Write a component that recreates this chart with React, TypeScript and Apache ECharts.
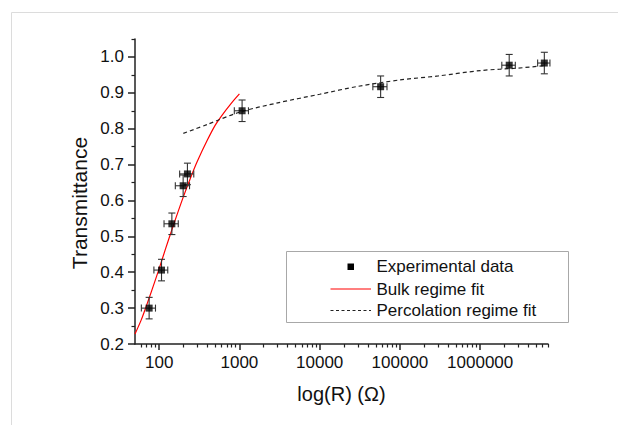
import React, { useEffect, useRef } from "react";
import * as echarts from "echarts";

// Experimental data (resistance in ohm, transmittance)
const dataR = [75, 107, 144, 199, 225, 1080, 57500, 2300000, 6300000];
const dataT = [0.3, 0.406, 0.535, 0.641, 0.674, 0.85, 0.917, 0.977, 0.983];
const errR = [15, 21, 29, 40, 45, 216, 11500, 440000, 1100000];
const errT = [0.03, 0.03, 0.03, 0.03, 0.03, 0.03, 0.03, 0.03, 0.03];

// Bulk regime fit
const bulkR = [50, 60, 70, 80, 100, 120, 150, 200, 250, 300, 400, 500, 600, 800, 1000];
const bulkT = [0.228, 0.268, 0.309, 0.346, 0.41, 0.465, 0.53, 0.61, 0.667, 0.71, 0.769, 0.81, 0.836, 0.872, 0.897];

// Percolation regime fit
const percR = [200, 400, 1000, 3000, 10000, 30000, 100000, 300000, 1000000, 3000000, 6500000];
const percT = [0.787, 0.812, 0.846, 0.872, 0.896, 0.918, 0.936, 0.947, 0.962, 0.969, 0.976];

// Axis ticks
const xMajorTicks = [100, 1000, 10000, 100000, 1000000];
const xMinorTicks = [
  60, 70, 80, 90,
  200, 300, 400, 500, 600, 700, 800, 900,
  2000, 3000, 4000, 5000, 6000, 7000, 8000, 9000,
  20000, 30000, 40000, 50000, 60000, 70000, 80000, 90000,
  200000, 300000, 400000, 500000, 600000, 700000, 800000, 900000,
  2000000, 3000000, 4000000, 5000000, 6000000, 7000000,
];
const yMajorTicks = [0.2, 0.3, 0.4, 0.5, 0.6, 0.7, 0.8, 0.9, 1.0];
const yMinorTicks = [0.25, 0.35, 0.45, 0.55, 0.65, 0.75, 0.85, 0.95, 1.05];

const legendLabels = ["Experimental data", "Bulk regime fit", "Percolation regime fit"];
const xTitle = "log(R) (\u03A9)";
const yTitle = "Transmittance";

const FONT = "'Liberation Sans', Arial, sans-serif";
const AXIS_COLOR = "#222";

export default function App() {
  const ref = useRef<HTMLDivElement>(null);

  useEffect(() => {
    if (!ref.current) return;
    const chart = echarts.init(ref.current, null, { renderer: "svg" });

    const xMin = 50;
    const xMax = 7000000;

    const baseX = {
      type: "log",
      logBase: 10,
      min: xMin,
      max: xMax,
      position: "bottom",
      splitLine: { show: false },
      minorTick: { show: false },
    };
    const baseY = {
      type: "value",
      min: 0.2,
      max: 1.05,
      position: "left",
      splitLine: { show: false },
    };

    const pts = dataR.map((r, i) => [r, dataT[i], errR[i], errT[i]]);

    const option = {
      animation: false,
      backgroundColor: "#fff",
      grid: { left: 135, right: 70, top: 39, bottom: 81 },
      xAxis: [
        {
          ...baseX,
          axisLine: { show: true, lineStyle: { color: AXIS_COLOR, width: 1.5 } },
          axisTick: {
            show: true,
            inside: false,
            length: 6,
            customValues: xMajorTicks,
            lineStyle: { color: AXIS_COLOR, width: 1.5 },
          },
          axisLabel: {
            show: true,
            customValues: xMajorTicks,
            margin: 10,
            color: "#111",
            fontSize: 17,
            fontFamily: FONT,
            formatter: (v: number) => String(Math.round(v)),
          },
        },
        {
          ...baseX,
          axisLine: { show: false },
          axisTick: {
            show: true,
            inside: false,
            length: 3.5,
            customValues: xMinorTicks,
            lineStyle: { color: AXIS_COLOR, width: 1.2 },
          },
          axisLabel: { show: false },
        },
      ],
      yAxis: [
        {
          ...baseY,
          axisLine: { show: true, lineStyle: { color: AXIS_COLOR, width: 1.5 } },
          axisTick: {
            show: true,
            inside: false,
            length: 7,
            customValues: yMajorTicks,
            lineStyle: { color: AXIS_COLOR, width: 1.5 },
          },
          axisLabel: {
            show: true,
            customValues: yMajorTicks,
            margin: 11,
            color: "#111",
            fontSize: 17,
            fontFamily: FONT,
            formatter: (v: number) => v.toFixed(1),
          },
        },
        {
          ...baseY,
          axisLine: { show: false },
          axisTick: {
            show: true,
            inside: false,
            length: 3.5,
            customValues: yMinorTicks,
            lineStyle: { color: AXIS_COLOR, width: 1.2 },
          },
          axisLabel: { show: false },
        },
      ],
      series: [
        {
          name: legendLabels[1],
          type: "line",
          data: bulkR.map((r, i) => [r, bulkT[i]]),
          smooth: 0.3,
          showSymbol: false,
          symbol: "none",
          lineStyle: { color: "#ff0000", width: 1.2 },
          z: 3,
        },
        {
          name: legendLabels[2],
          type: "line",
          data: percR.map((r, i) => [r, percT[i]]),
          smooth: 0.3,
          showSymbol: false,
          symbol: "none",
          lineStyle: { color: "#222", width: 1.2, type: [4, 3] },
          z: 3,
        },
        {
          name: "errors",
          type: "custom",
          data: pts,
          encode: { x: 0, y: 1 },
          z: 4,
          renderItem: (params: any, api: any) => {
            const x = api.value(0);
            const y = api.value(1);
            const xe = api.value(2);
            const ye = api.value(3);
            const top = api.coord([x, y + ye]);
            const bot = api.coord([x, y - ye]);
            const l = api.coord([x - xe, y]);
            const r = api.coord([x + xe, y]);
            const cap = 3.5;
            const style = { stroke: "#333", lineWidth: 1.1 };
            return {
              type: "group",
              children: [
                { type: "line", shape: { x1: top[0], y1: top[1], x2: bot[0], y2: bot[1] }, style },
                { type: "line", shape: { x1: top[0] - cap, y1: top[1], x2: top[0] + cap, y2: top[1] }, style },
                { type: "line", shape: { x1: bot[0] - cap, y1: bot[1], x2: bot[0] + cap, y2: bot[1] }, style },
                { type: "line", shape: { x1: l[0], y1: l[1], x2: r[0], y2: r[1] }, style },
                { type: "line", shape: { x1: l[0], y1: l[1] - cap, x2: l[0], y2: l[1] + cap }, style },
                { type: "line", shape: { x1: r[0], y1: r[1] - cap, x2: r[0], y2: r[1] + cap }, style },
              ],
            };
          },
        },
        {
          name: legendLabels[0],
          type: "scatter",
          data: pts.map((p) => [p[0], p[1]]),
          symbol: "rect",
          symbolSize: 7,
          itemStyle: { color: "#000" },
          z: 5,
        },
      ],
      graphic: [
        // light frame lines
        { type: "line", shape: { x1: 11.5, y1: 12.5, x2: 618, y2: 12.5 }, style: { stroke: "#dcdcdc", lineWidth: 1 }, silent: true },
        { type: "line", shape: { x1: 11.5, y1: 12.5, x2: 11.5, y2: 425 }, style: { stroke: "#dcdcdc", lineWidth: 1 }, silent: true },
        // axis titles
        {
          type: "text",
          x: 341.5,
          y: 394,
          style: { text: xTitle, font: `20px ${FONT}`, fill: "#111", align: "center", verticalAlign: "middle" },
        },
        {
          type: "text",
          x: 79,
          y: 203,
          rotation: Math.PI / 2,
          style: { text: yTitle, font: `21px ${FONT}`, fill: "#111", align: "center", verticalAlign: "middle" },
        },
        // legend box
        {
          type: "rect",
          shape: { x: 286.5, y: 251.5, width: 282, height: 71 },
          style: { fill: "#fff", stroke: "#a8a8a8", lineWidth: 1 },
          z: 10,
        },
        {
          type: "rect",
          shape: { x: 347.5, y: 263.5, width: 6.5, height: 6.5 },
          style: { fill: "#000" },
          z: 11,
        },
        {
          type: "line",
          shape: { x1: 330.5, y1: 289, x2: 371, y2: 289 },
          style: { stroke: "#ff0000", lineWidth: 1.2 },
          z: 11,
        },
        {
          type: "line",
          shape: { x1: 330.5, y1: 310.5, x2: 371, y2: 310.5 },
          style: { stroke: "#222", lineWidth: 1.2, lineDash: [3, 2.5] },
          z: 11,
        },
        {
          type: "text",
          x: 376.5,
          y: 266.7,
          z: 11,
          style: { text: legendLabels[0], font: `17px ${FONT}`, fill: "#111", align: "left", verticalAlign: "middle" },
        },
        {
          type: "text",
          x: 376.5,
          y: 289,
          z: 11,
          style: { text: legendLabels[1], font: `17px ${FONT}`, fill: "#111", align: "left", verticalAlign: "middle" },
        },
        {
          type: "text",
          x: 376.5,
          y: 310.7,
          z: 11,
          style: { text: legendLabels[2], font: `17px ${FONT}`, fill: "#111", align: "left", verticalAlign: "middle" },
        },
      ],
    };

    chart.setOption(option as any);
    return () => chart.dispose();
  }, []);

  return (
    <div
      ref={ref}
      style={{ position: "fixed", left: 0, top: 0, width: 618, height: 425, background: "#fff" }}
    />
  );
}
